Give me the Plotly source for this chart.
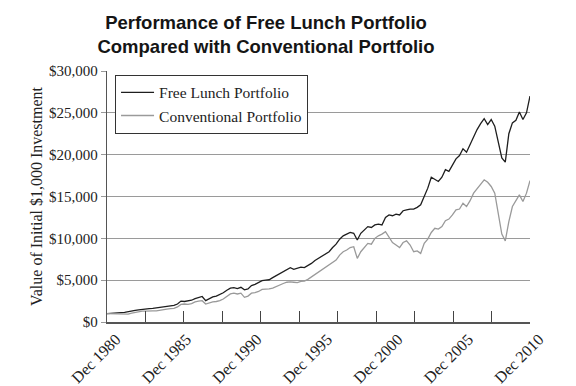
import plotly.graph_objects as go
import pandas as pd

# ---- data (quarterly readings: Dec 1980, then Mar/Jun/Sep/Dec of each year) ----
years = list(range(1981, 2011))
quarter_months = [3, 6, 9, 12]
dates = ["1980-12-15"] + [f"{y}-{m:02d}-15" for y in years for m in quarter_months]

free_lunch = [1000,
    1050, 1080, 1060, 1120,      # 1981
    1150, 1200, 1300, 1380,      # 1982
    1450, 1520, 1550, 1600,      # 1983
    1620, 1650, 1750, 1820,      # 1984
    1880, 1950, 1980, 2150,      # 1985
    2500, 2450, 2550, 2600,      # 1986
    2800, 2950, 3050, 2550,      # 1987
    2800, 3000, 3100, 3300,      # 1988
    3500, 3800, 4050, 4100,      # 1989
    4000, 4150, 3850, 3950,      # 1990
    4350, 4500, 4700, 4950,      # 1991
    5000, 5050, 5300, 5550,      # 1992
    5800, 6100, 6350, 6500,      # 1993
    6300, 6450, 6550, 6500,      # 1994
    6700, 7000, 7350, 7600,      # 1995
    7800, 8100, 8400, 8900,      # 1996
    9300, 9900, 10300, 10500,    # 1997
    10700, 10600, 9800, 10600,   # 1998
    11000, 11400, 11300, 11600,  # 1999
    11700, 11600, 12500, 12800,  # 2000
    12700, 12900, 12800, 13300,  # 2001
    13400, 13500, 13500, 13700,  # 2002
    14000, 15000, 16000, 17300,  # 2003
    17000, 16800, 17300, 18200,  # 2004
    18000, 18700, 19500, 19900,  # 2005
    20700, 20300, 21200, 22300,  # 2006
    23000, 23700, 24300, 23600,  # 2007
    24200, 23400, 21500, 19600,  # 2008
    19100, 22500, 23800, 24100,  # 2009
    25100, 24200, 25000, 27000,  # 2010
]

conventional = [1000,
    980, 970, 930, 960,          # 1981
    950, 940, 1050, 1150,        # 1982
    1230, 1300, 1310, 1350,      # 1983
    1340, 1320, 1420, 1480,      # 1984
    1530, 1600, 1640, 1800,      # 1985
    2100, 2150, 2100, 2200,      # 1986
    2400, 2500, 2550, 2150,      # 1987
    2300, 2400, 2450, 2550,      # 1988
    2750, 3000, 3350, 3450,      # 1989
    3350, 3450, 2950, 3100,      # 1990
    3450, 3500, 3650, 3900,      # 1991
    3900, 3950, 4050, 4250,      # 1992
    4450, 4600, 4750, 4800,      # 1993
    4750, 4700, 4850, 4900,      # 1994
    5100, 5400, 5700, 6000,      # 1995
    6200, 6500, 6800, 7200,      # 1996
    7400, 8000, 8400, 8600,      # 1997
    8900, 9000, 7600, 8400,      # 1998
    8900, 9400, 9300, 10000,     # 1999
    10300, 10500, 10800, 10200,  # 2000
    9500, 9200, 8900, 9500,      # 2001
    9700, 9200, 8400, 8500,      # 2002
    8200, 9400, 9900, 10700,     # 2003
    11200, 11100, 11400, 12100,  # 2004
    12300, 12800, 13400, 13500,  # 2005
    14200, 13800, 14500, 15400,  # 2006
    15900, 16400, 17000, 16700,  # 2007
    16200, 15400, 13000, 10500,  # 2008
    9700, 12000, 13800, 14600,   # 2009
    15200, 14400, 15400, 16900,  # 2010
]

tick_label_dates = ["1980-12-15", "1985-12-15", "1990-12-15", "1995-12-15",
                    "2000-12-15", "2005-12-15", "2010-12-15"]
tick_labels = ["Dec 1980", "Dec 1985", "Dec 1990", "Dec 1995",
               "Dec 2000", "Dec 2005", "Dec 2010"]
y_ticks = [0, 5000, 10000, 15000, 20000, 25000, 30000]
y_tick_labels = ["$0", "$5,000", "$10,000", "$15,000", "$20,000", "$25,000", "$30,000"]

# ---- figure ----
x_start, x_end = pd.Timestamp("1980-12-15"), pd.Timestamp("2010-12-15")
n_tick_intervals = 11
tick_mark_dates = [x_start + (x_end - x_start) * k / n_tick_intervals
                   for k in range(n_tick_intervals + 1)]

serif = "Liberation Serif, Times New Roman, serif"

fig = go.Figure()
fig.add_trace(go.Scatter(x=dates, y=free_lunch, mode="lines",
                         name="Free Lunch Portfolio",
                         line=dict(color="#1e1e1e", width=1.3)))
fig.add_trace(go.Scatter(x=dates, y=conventional, mode="lines",
                         name="Conventional Portfolio",
                         line=dict(color="#9a9a9a", width=1.3)))
fig.add_trace(go.Scatter(x=[], y=[], xaxis="x2", showlegend=False,
                         hoverinfo="skip"))

fig.update_layout(
    width=576, height=386,
    margin=dict(l=107, r=46, t=71, b=64, autoexpand=False),
    paper_bgcolor="white", plot_bgcolor="white",
    title=dict(text="Performance of Free Lunch Portfolio<br>Compared with Conventional Portfolio",
               x=266 / 576, xanchor="center", y=1 - 29 / 386, yanchor="top",
               font=dict(family="Liberation Sans, Arial, sans-serif", size=18.5,
                         color="#151515", weight="bold")),
    showlegend=True,
    legend=dict(x=0.019, y=0.985, xanchor="left", yanchor="top",
                bgcolor="white", bordercolor="#333", borderwidth=1,
                itemwidth=33,
                font=dict(family=serif, size=15.5, color="#222")),
    xaxis=dict(type="date", range=[x_start, x_end],
               tickvals=tick_label_dates, ticktext=tick_labels,
               tickangle=-45, ticks="", automargin=False,
               ticklabelshift=9,
               tickfont=dict(family=serif, size=16, color="#222"),
               showgrid=False, zeroline=False,
               showline=True, linecolor="#555", linewidth=1.5),
    xaxis2=dict(type="date", range=[x_start, x_end], overlaying="x",
                anchor="y", side="bottom", automargin=False,
                tickvals=tick_mark_dates, ticks="inside", ticklen=11,
                tickcolor="#444", tickwidth=1.3, showticklabels=False,
                showgrid=False, zeroline=False, showline=False),
    yaxis=dict(range=[0, 30000], tickvals=y_ticks, ticktext=y_tick_labels,
               ticks="outside", ticklen=5, tickcolor="#999", automargin=False,
               tickfont=dict(family=serif, size=15, color="#222"),
               showgrid=True, gridcolor="#9a9a9a", gridwidth=1,
               zeroline=False, showline=True, linecolor="#555", linewidth=1.3,
               title=dict(text="Value of Initial $1,000 Investment",
                          font=dict(family=serif, size=16, color="#222"),
                          standoff=2)),
)

fig.write_html("out.html", config={"displayModeBar": False},
               post_script="document.body.style.margin='0';")
